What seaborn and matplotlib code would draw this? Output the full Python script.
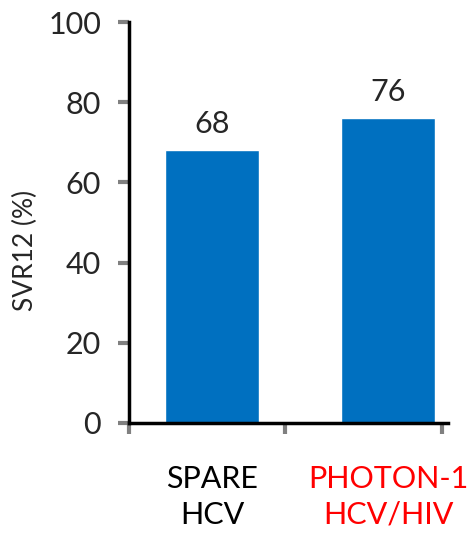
import matplotlib
matplotlib.use("Agg")
import matplotlib.pyplot as plt
import seaborn as sns
import pandas as pd

categories = ["SPARE\nHCV", "PHOTON-1\nHCV/HIV"]
values = [68, 76]
label_colors = ["#000000", "#FF0000"]
yticks = [0, 20, 40, 60, 80, 100]
bar_color = "#0070C0"

sns.set_theme(style="ticks")
plt.rcParams["font.family"] = ["Lato", "DejaVu Sans"]

df = pd.DataFrame({"cat": categories, "val": values})

fig = plt.figure(figsize=(4.75, 5.35), dpi=100)
ax = fig.add_axes([129/475, 1-423/535, (448-129)/475, (423-22)/535])

sns.barplot(data=df, x="cat", y="val", color=bar_color, width=0.534,
            saturation=1, ax=ax)

ax.set_xlim(-0.472, 1.341)
ax.set_ylim(0, 100)
ax.set_yticks(yticks)
ax.set_yticklabels([str(t) for t in yticks], fontsize=22)
ax.tick_params(axis="y", length=8, width=3, color="#808080", pad=12)

ax.set_xticks([0, 1])
ax.set_xticklabels(categories, fontsize=22, linespacing=1.35)
for lbl, c in zip(ax.get_xticklabels(), label_colors):
    lbl.set_color(c)
ax.tick_params(axis="x", which="major", length=0, pad=30)
ax.set_xticks([-0.472, 0.415, 1.307], minor=True)
ax.tick_params(axis="x", which="minor", length=8, width=3, color="#808080")

for i, v in enumerate(values):
    ax.text(i, v + 3, str(v), ha="center", va="bottom", fontsize=22)

ax.set_xlabel("")
ax.set_ylabel("SVR12 (%)", fontsize=19)
ax.yaxis.set_label_coords(-0.285, 0.43)
for s in ["top", "right"]:
    ax.spines[s].set_visible(False)
for s in ["left", "bottom"]:
    ax.spines[s].set_linewidth(2.5)
    ax.spines[s].set_color("black")

fig.savefig("out.png", dpi=100)
